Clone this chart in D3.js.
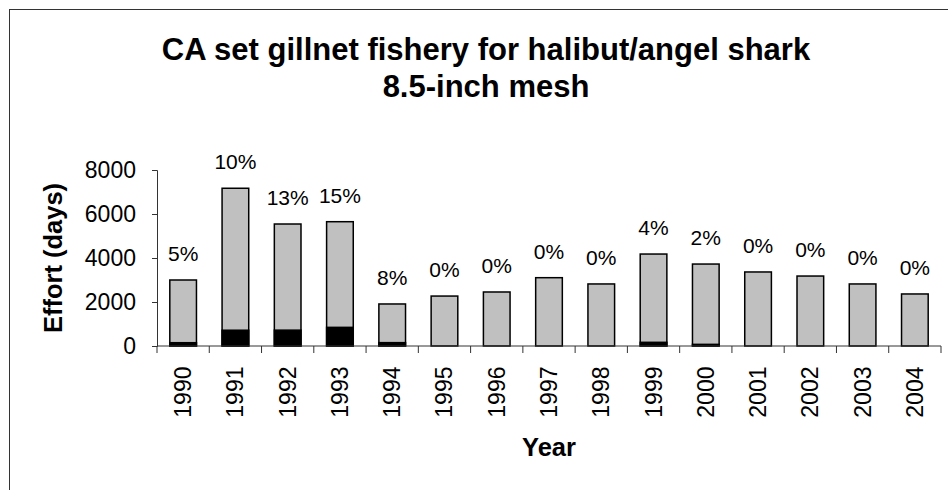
<!DOCTYPE html>
<html>
<head>
<meta charset="utf-8">
<script src="https://cdn.jsdelivr.net/npm/d3@7"></script>
<style>
  html, body { margin: 0; padding: 0; background: #fff; }
  svg { display: block; }
  text { font-family: "Liberation Sans", Arial, sans-serif; fill: #000; }
</style>
</head>
<body>
<svg id="chart" width="948" height="490"></svg>
<script>
// Set gillnet effort by year, with the observed share of that effort
const years = ["1990","1991","1992","1993","1994","1995","1996","1997","1998","1999","2000","2001","2002","2003","2004"];
const effortDays = [3000, 7170, 5545, 5650, 1910, 2270, 2455, 3105, 2820, 4180, 3725, 3365, 3180, 2820, 2365];
const observedPct = [5, 10, 13, 15, 8, 0, 0, 0, 0, 4, 2, 0, 0, 0, 0];
const yTicks = [0, 2000, 4000, 6000, 8000];
const titleLines = ["CA set gillnet fishery for halibut/angel shark", "8.5-inch mesh"];

const svg = d3.select("#chart");

// chart area border (continues past the right and bottom edges)
svg.append("rect")
  .attr("x", 9.5).attr("y", 9.5)
  .attr("width", 1100).attr("height", 1100)
  .attr("fill", "none").attr("stroke", "#333").attr("stroke-width", 1);

const plot = { left: 157, right: 941, top: 170, bottom: 346 };

const x = d3.scaleBand().domain(years).range([plot.left, plot.right]).paddingInner(0).paddingOuter(0);
const y = d3.scaleLinear().domain([0, 8000]).range([plot.bottom, plot.top]);
const barW = x.bandwidth() * 0.51;

// title
svg.append("g").selectAll("text").data(titleLines).join("text")
  .attr("x", 486)
  .attr("y", (d, i) => 60 + i * 37)
  .attr("text-anchor", "middle")
  .style("font-size", "31px").style("font-weight", "bold")
  .text(d => d);

// bars: total effort in grey, observed portion in black
const bars = svg.append("g");
bars.selectAll("rect.total").data(years).join("rect")
  .attr("class", "total")
  .attr("x", d => x(d) + (x.bandwidth() - barW) / 2)
  .attr("width", barW)
  .attr("y", (d, i) => y(effortDays[i]))
  .attr("height", (d, i) => y(0) - y(effortDays[i]))
  .attr("fill", "#c0c0c0").attr("stroke", "#000").attr("stroke-width", 1.5);

bars.selectAll("rect.observed").data(years.filter((d, i) => observedPct[i] > 0)).join("rect")
  .attr("class", "observed")
  .attr("x", d => x(d) + (x.bandwidth() - barW) / 2)
  .attr("width", barW)
  .attr("y", d => { const i = years.indexOf(d); return y(effortDays[i] * observedPct[i] / 100); })
  .attr("height", d => { const i = years.indexOf(d); return y(0) - y(effortDays[i] * observedPct[i] / 100); })
  .attr("fill", "#000").attr("stroke", "#000").attr("stroke-width", 1.5);

// percentage labels above each bar
svg.append("g").selectAll("text").data(years).join("text")
  .attr("x", d => x(d) + x.bandwidth() / 2)
  .attr("y", (d, i) => y(effortDays[i]) - 19)
  .attr("text-anchor", "middle")
  .style("font-size", "21px")
  .text((d, i) => observedPct[i] + "%");

// y axis
const yAxis = svg.append("g")
  .attr("transform", `translate(${plot.left},0)`)
  .call(d3.axisLeft(y).tickValues(yTicks).tickSize(5).tickPadding(16).tickFormat(d3.format("d")));
yAxis.select(".domain").attr("stroke", "#333");
yAxis.selectAll(".tick line").attr("stroke", "#333");
yAxis.selectAll("text").style("font-size", "23px").style("font-family", "Liberation Sans, Arial, sans-serif").attr("fill", "#000");

// x axis with ticks between categories
const xAxisG = svg.append("g").attr("transform", `translate(0,${plot.bottom})`);
xAxisG.append("line")
  .attr("x1", plot.left).attr("x2", plot.right)
  .attr("stroke", "#333");
const boundaries = years.map(d => x(d)).concat([x(years[years.length - 1]) + x.bandwidth()]);
xAxisG.selectAll("line.tick").data(boundaries).join("line")
  .attr("class", "tick")
  .attr("x1", d => d).attr("x2", d => d)
  .attr("y1", 0).attr("y2", 7)
  .attr("stroke", "#333");
xAxisG.selectAll("text").data(years).join("text")
  .attr("transform", d => `translate(${x(d) + x.bandwidth() / 2 + 8},${20.5}) rotate(-90)`)
  .attr("text-anchor", "end")
  .style("font-size", "23px")
  .text(d => d);

// axis titles
svg.append("text")
  .attr("x", (plot.left + plot.right) / 2)
  .attr("y", 456)
  .attr("text-anchor", "middle")
  .style("font-size", "25.5px").style("font-weight", "bold")
  .text("Year");

svg.append("text")
  .attr("transform", `translate(62,${(plot.top + plot.bottom) / 2}) rotate(-90)`)
  .attr("text-anchor", "middle")
  .style("font-size", "25.5px").style("font-weight", "bold")
  .text("Effort (days)");
</script>
</body>
</html>
